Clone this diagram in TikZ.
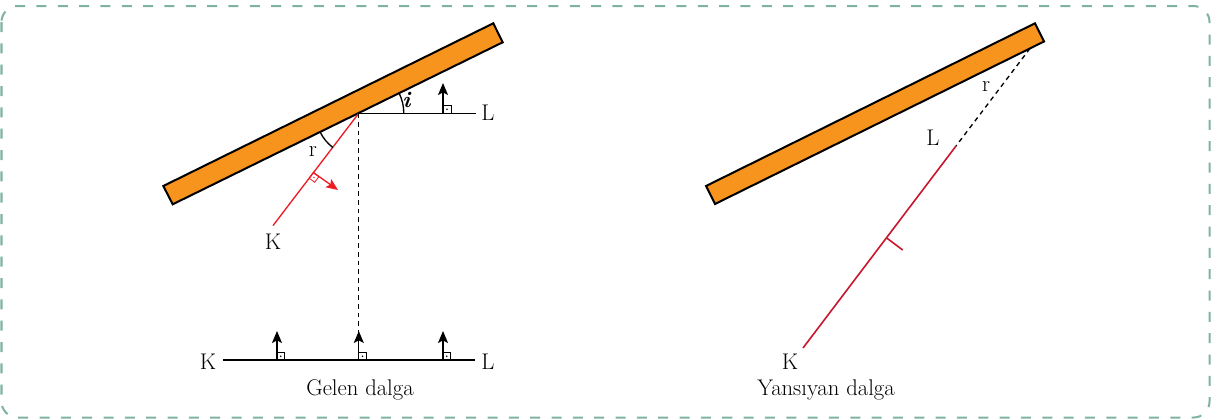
\documentclass[tikz,border=0pt]{standalone}
\usetikzlibrary{arrows.meta,calc}
\definecolor{plankcol}{RGB}{247,148,29}
\definecolor{framecol}{RGB}{127,178,165}
\definecolor{redA}{RGB}{237,28,36}
\definecolor{redB}{RGB}{200,22,45}
\begin{document}
\begin{tikzpicture}[x=0.75pt,y=-0.75pt,
  lbl/.style={font=\fontsize{17}{20}\selectfont, inner sep=0pt},
  plankbox/.style={fill=plankcol, draw=black, line width=1.5pt, line join=miter},
  thinline/.style={line width=1pt},
  vec/.style={thinline, -{Stealth[length=9pt,width=7.5pt,inset=2pt]}},
  dashline/.style={thinline, dash pattern=on 3.5pt off 3pt},
  sqmark/.style={line width=0.6pt},
]
\useasboundingbox (0,0) rectangle (1212,419);
\draw[framecol, line width=1.5pt, dash pattern=on 7.5pt off 8.5pt, rounded corners=12pt] (1.5,6) rectangle (1209.5,417.5);

% ---------- left: incident wave ----------
\coordinate (A1) at (163.3,186);
\coordinate (B1) at (172.7,204.3);
\coordinate (C1) at (502.7,42.3);
\coordinate (D1) at (493.3,23.3);
\draw[plankbox] (A1) -- (B1) -- (C1) -- (D1) -- cycle;

\coordinate (O) at (358.8,113.2);
\coordinate (Lend) at (476,113.2);
\draw[thinline] (O) -- (Lend);
\node[lbl] (L1) at (488,113) {L};

% angle i
\draw[thinline] ($(O)+(45,0)$) arc[start angle=0, end angle=-26.15, radius=45];
\node[lbl] (il) at (407,100) {\textbf{\textit{i}}};

% arrow on L side
\coordinate (ia) at (443,113.2);
\coordinate (ib) at (443,83);
\draw[vec] (ia) -- (ib);
\draw[sqmark] (443,113.2) rectangle (451,105.2);
\fill (447,109.2) circle[radius=0.9];

% red reflected ray with r angle
\coordinate (K1e) at (273,225.6);
\draw[redA, thinline] (O) -- (K1e);
\node[lbl] (K1) at (273,242) {K};
\draw[thinline] ($(O)+(153.85:43)$) arc[start angle=153.85, end angle=127.2, radius=43];
\node[lbl] (r1) at (313,152) {r};

\coordinate (P) at (313.3,172.5);
\coordinate (Ptip) at (338,190);
\draw[redA, sqmark] (P) -- ++(127.2:7) -- ++(37.2:7) -- ++(-52.8:7) -- cycle;
\fill[redA] ($(P)+(127.2:3.5)+(37.2:3.5)$) circle[radius=0.8];
\draw[redA, vec] (P) -- (Ptip);

% vertical dashed projection
\coordinate (Vb) at (358.8,345);
\draw[dashline] (O) -- (Vb);

% incident wavefront
\coordinate (KL0) at (223,360);
\coordinate (KL1) at (475,360);
\draw[thinline, line width=1.2pt] (KL0) -- (KL1);
\node[lbl] (K0) at (208,362) {K};
\node[lbl] (L0) at (488,362) {L};
\foreach \xx/\nm in {277/a, 358.8/b, 443/c} {
  \coordinate (w\nm) at (\xx,360);
  \coordinate (t\nm) at (\xx,331);
  \draw[vec] (w\nm) -- (t\nm);
  \draw[sqmark] (\xx,360) rectangle (\xx+7.5,352.5);
  \fill (\xx+3.75,356.25) circle[radius=0.9];
}
\node[lbl] (gd) at (360,390) {Gelen dalga};

% ---------- right: reflected wave ----------
\coordinate (A2) at (706,186);
\coordinate (B2) at (715,204);
\coordinate (C2) at (1044,41.5);
\coordinate (D2) at (1035,23.3);
\draw[plankbox] (A2) -- (B2) -- (C2) -- (D2) -- cycle;

\coordinate (E) at (1030,48.4);
\coordinate (M) at (956,146);
\coordinate (F) at (803,348);
\draw[dashline] (E) -- (M);
\draw[redB, thinline, line width=1.2pt] (M) -- (F);
\coordinate (Tk) at (886.7,238);
\coordinate (Tk2) at (902.7,250);
\draw[redB, thinline, line width=1.2pt] (Tk) -- (Tk2);

\node[lbl] (r2) at (986,87) {r};
\node[lbl] (L2) at (933,138) {L};
\node[lbl] (K2) at (790,362) {K};
\node[lbl] (yd) at (826,390) {Yans\i yan dalga};
\end{tikzpicture}
\end{document}
